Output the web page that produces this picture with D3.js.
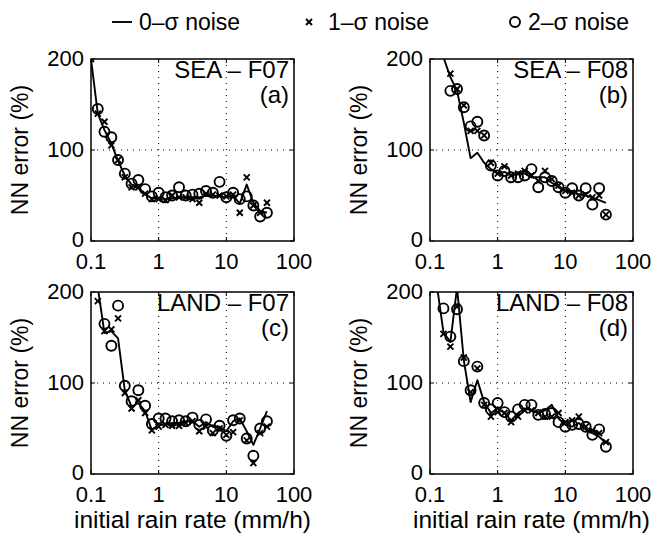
<!DOCTYPE html>
<html>
<head>
<meta charset="utf-8">
<script src="https://cdn.jsdelivr.net/npm/d3@7"></script>
<style>
  body { margin: 0; background: #fff; }
  svg { display: block; font-family: "Liberation Sans", Arial, sans-serif; }
</style>
</head>
<body>
<svg id="chart" width="653" height="534"></svg>
<script>
// ==========================
// DATA
// ==========================
const rainRate = [0.1, 0.126, 0.158, 0.2, 0.251, 0.316, 0.398, 0.501, 0.631, 0.794,
                  1, 1.26, 1.58, 2, 2.51, 3.16, 3.98, 5.01, 6.31, 7.94,
                  10, 12.6, 15.8, 20, 25.1, 31.6, 39.8];

const xTicks = [0.1, 1, 10, 100];
const xTickLabels = ["0.1", "1", "10", "100"];
const yTicks = [0, 100, 200];

const panelNames = ["SEA \u2013 F07", "SEA \u2013 F08", "LAND \u2013 F07", "LAND \u2013 F08"];
const panelLetters = ["(a)", "(b)", "(c)", "(d)"];
const legendNames = ["0\u2013\u03c3 noise", "1\u2013\u03c3 noise", "2\u2013\u03c3 noise"];

// 0-sigma noise (line)
const seaF07_0 = [200,140,122,107,88,72,62,58,51,47,47,46,47,48,48,48,48,50,50,49,48,50,41,62,42,33,31];
const seaF08_0 = [null,null,202,180,165,130,91,97,86,79,74,76,72,74,74,70,70,70,64,59,55,55,51,50,48,45,42];
const landF07_0 = [350,205,155,157,149,92,74,78,69,48,54,54,56,56,58,58,52,57,52,52,47,58,61,47,32,50,69];
const landF08_0 = [null,208,156,145,205,125,79,103,79,67,72,67,59,67,72,70,67,70,76,61,54,52,56,49,45,41,34];

// 1-sigma noise (crosses)
const seaF07_1 = [200,140,131,105,89,70,59,59,52,46,46,45,50,48,48,46,42,52,51,50,49,51,31,70,39,31,42];
const seaF08_1 = [null,null,null,184,167,149,121,121,116,86,74,82,72,74,77,72,66,77,68,61,55,53,50,51,48,50,29];
const landF07_1 = [null,190,157,159,171,89,72,81,67,48,52,54,53,53,56,58,47,52,45,50,43,46,59,37,12,45,52];
const landF08_1 = [null,null,154,140,184,128,90,116,76,63,68,67,57,63,70,70,67,63,63,67,57,59,63,52,48,45,35];

// 2-sigma noise (circles)
const seaF07_2 = [null,145,120,114,89,74,63,67,57,49,53,48,50,59,50,51,52,55,53,65,48,53,46,49,39,27,31];
const seaF08_2 = [null,null,null,165,167,147,126,131,116,83,72,77,70,70,72,79,59,70,66,59,53,58,50,58,40,58,29];
const landF07_2 = [null,null,165,141,185,97,80,92,75,55,61,61,58,59,58,62,54,60,48,53,42,59,61,39,20,50,58];
const landF08_2 = [null,null,182,151,181,124,92,118,78,71,78,68,63,71,76,76,65,66,67,57,52,54,55,52,43,49,30];

const lineSeries = [seaF07_0, seaF08_0, landF07_0, landF08_0];
const crossSeries = [seaF07_1, seaF08_1, landF07_1, landF08_1];
const circleSeries = [seaF07_2, seaF08_2, landF07_2, landF08_2];

// ==========================
// LAYOUT
// ==========================
const svg = d3.select("#chart");
const W = 203, H = 182;
const panelPos = [[91, 59], [430, 59], [91, 292], [430, 292]];
const tickFont = 22, labelFont = 24, titleFont = 24.5, yTitleFont = 23, legendFont = 23;

const x = d3.scaleLog().domain([0.1, 100]).range([0, W]);
const y = d3.scaleLinear().domain([0, 200]).range([H, 0]);

const line = d3.line()
    .defined(d => d[1] != null)
    .x(d => x(d[0]))
    .y(d => y(d[1]));

function crossPath(cx, cy, s) {
    return `M${cx - s},${cy - s}L${cx + s},${cy + s}M${cx - s},${cy + s}L${cx + s},${cy - s}`;
}

panelPos.forEach((pos, i) => {
    const g = svg.append("g").attr("transform", `translate(${pos[0]},${pos[1]})`);

    g.append("clipPath").attr("id", "clip" + i)
        .append("rect").attr("width", W).attr("height", H);

    // dotted grid
    g.selectAll(".gx").data([1, 10]).enter().append("line")
        .attr("x1", d => x(d)).attr("x2", d => x(d))
        .attr("y1", 0).attr("y2", H)
        .attr("stroke", "#000").attr("stroke-width", 1)
        .attr("stroke-dasharray", "1,5");
    g.append("line")
        .attr("x1", 0).attr("x2", W)
        .attr("y1", y(100)).attr("y2", y(100))
        .attr("stroke", "#000").attr("stroke-width", 1)
        .attr("stroke-dasharray", "1,5");

    // inward ticks on all four sides
    xTicks.forEach(t => {
        g.append("line").attr("x1", x(t)).attr("x2", x(t)).attr("y1", H).attr("y2", H - 4)
            .attr("stroke", "#000");
        g.append("line").attr("x1", x(t)).attr("x2", x(t)).attr("y1", 0).attr("y2", 4)
            .attr("stroke", "#000");
    });
    yTicks.forEach(t => {
        g.append("line").attr("x1", 0).attr("x2", 4).attr("y1", y(t)).attr("y2", y(t))
            .attr("stroke", "#000");
        g.append("line").attr("x1", W).attr("x2", W - 4).attr("y1", y(t)).attr("y2", y(t))
            .attr("stroke", "#000");
    });

    // tick labels
    g.selectAll(".xl").data(xTicks).enter().append("text")
        .attr("x", d => x(d)).attr("y", H + 28)
        .attr("text-anchor", "middle")
        .attr("font-size", tickFont)
        .text((d, j) => xTickLabels[j]);
    g.selectAll(".yl").data(yTicks).enter().append("text")
        .attr("x", -7).attr("y", d => y(d) - (d === 0 ? 1 : 0))
        .attr("dy", "0.34em")
        .attr("text-anchor", "end")
        .attr("font-size", tickFont)
        .text(d => d);

    // data
    const data = g.append("g").attr("clip-path", `url(#clip${i})`);
    data.append("path")
        .datum(rainRate.map((r, j) => [r, lineSeries[i][j]]))
        .attr("d", line)
        .attr("fill", "none")
        .attr("stroke", "#000")
        .attr("stroke-width", 1.9)
        .attr("stroke-linejoin", "round");

    const crosses = rainRate.map((r, j) => [r, crossSeries[i][j]])
        .filter(d => d[1] != null && d[1] <= 200);
    data.selectAll(".cross").data(crosses).enter().append("path")
        .attr("d", d => crossPath(x(d[0]), y(d[1]), 3))
        .attr("stroke", "#000").attr("stroke-width", 1.9);

    const circles = rainRate.map((r, j) => [r, circleSeries[i][j]])
        .filter(d => d[1] != null && d[1] <= 200);
    data.selectAll(".circ").data(circles).enter().append("circle")
        .attr("cx", d => x(d[0])).attr("cy", d => y(d[1]))
        .attr("r", 5)
        .attr("fill", "none")
        .attr("stroke", "#000").attr("stroke-width", 1.9);

    // box
    g.append("rect").attr("width", W).attr("height", H)
        .attr("fill", "none").attr("stroke", "#000").attr("stroke-width", 1.5);

    // panel labels
    g.append("text").attr("x", W - 5).attr("y", 19)
        .attr("text-anchor", "end").attr("font-size", labelFont)
        .text(panelNames[i]);
    g.append("text").attr("x", W - 5).attr("y", 44)
        .attr("text-anchor", "end").attr("font-size", labelFont)
        .text(panelLetters[i]);

    // axis titles
    svg.append("text")
        .attr("transform", `translate(${pos[0] - 63},${pos[1] + H / 2}) rotate(-90)`)
        .attr("text-anchor", "middle").attr("font-size", yTitleFont)
        .text("NN error (%)");
    if (i >= 2) {
        svg.append("text")
            .attr("x", pos[0] + W / 2).attr("y", pos[1] + H + 54)
            .attr("text-anchor", "middle").attr("font-size", titleFont)
            .text("initial rain rate (mm/h)");
    }
});

// ==========================
// LEGEND
// ==========================
const legend = svg.append("g");
const legY = 22;
legend.append("line").attr("x1", 112).attr("x2", 132).attr("y1", legY).attr("y2", legY)
    .attr("stroke", "#000").attr("stroke-width", 1.9);
legend.append("path")
    .attr("d", crossPath(309, legY, 3))
    .attr("stroke", "#000").attr("stroke-width", 1.9);
legend.append("circle").attr("cx", 515).attr("cy", legY).attr("r", 5)
    .attr("fill", "none").attr("stroke", "#000").attr("stroke-width", 1.9);
[139, 328, 528].forEach((lx, i) => {
    legend.append("text").attr("x", lx).attr("y", legY).attr("dy", "0.36em")
        .attr("font-size", legendFont)
        .text(legendNames[i]);
});
</script>
</body>
</html>
